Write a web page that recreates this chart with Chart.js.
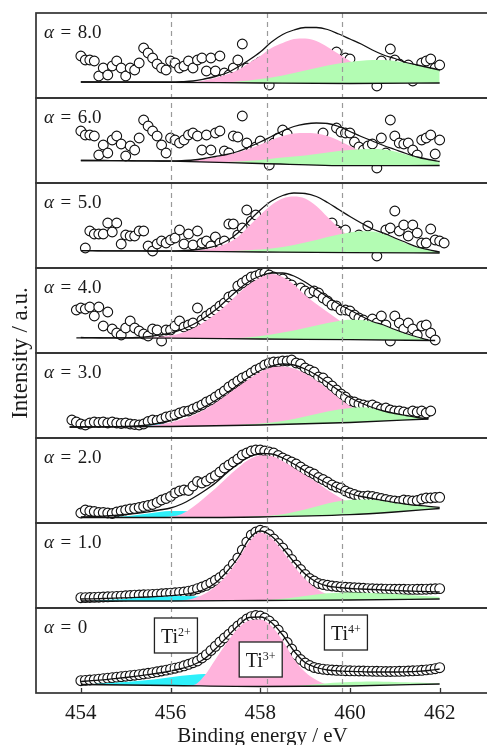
<!DOCTYPE html>
<html>
<head>
<meta charset="utf-8">
<script src="https://cdn.jsdelivr.net/npm/chart.js@4.4.1/dist/chart.umd.min.js"></script>
<style>
  html, body { margin: 0; padding: 0; background: #fff; overflow: hidden; }
  #wrap { width: 495px; height: 745px; }
</style>
</head>
<body>
<div id="wrap"><canvas id="chartXps" width="495" height="745"></canvas></div>
<script>
const N = null;

// binding energy of the measured points (eV)
const energy = [453.8, 453.9,
  454.0, 454.1, 454.2, 454.3, 454.4, 454.5, 454.6, 454.7, 454.8, 454.9,
  455.0, 455.1, 455.2, 455.3, 455.4, 455.5, 455.6, 455.7, 455.8, 455.9,
  456.0, 456.1, 456.2, 456.3, 456.4, 456.5, 456.6, 456.7, 456.8, 456.9,
  457.0, 457.1, 457.2, 457.3, 457.4, 457.5, 457.6, 457.7, 457.8, 457.9,
  458.0, 458.1, 458.2, 458.3, 458.4, 458.5, 458.6, 458.7, 458.8, 458.9,
  459.0, 459.1, 459.2, 459.3, 459.4, 459.5, 459.6, 459.7, 459.8, 459.9,
  460.0, 460.1, 460.2, 460.3, 460.4, 460.5, 460.6, 460.7, 460.8, 460.9,
  461.0, 461.1, 461.2, 461.3, 461.4, 461.5, 461.6, 461.7, 461.8, 461.9,
  462.0, 462.1];

// energy grid of the fitted curves (eV)
const eCurve = [453.75, 454, 454.25, 454.5, 454.75, 455, 455.25, 455.5, 455.75,
  456, 456.25, 456.5, 456.75, 457, 457.25, 457.5, 457.75, 458, 458.25, 458.5, 458.75,
  459, 459.25, 459.5, 459.75, 460, 460.25, 460.5, 460.75, 461, 461.25, 461.5, 461.75,
  462, 462.25];

const xTicks = [454, 456, 458, 460, 462];
const refLines = [456.0, 458.15, 459.82];
const alphaLabels = ["8.0", "6.0", "5.0", "4.0", "3.0", "2.0", "1.0", "0"];
const stateNames = ["2+", "3+", "4+"];
const stateE = [456.12, 458.01, 459.91];
const stateH = [57.5, 33.5, 60.5];

// ---- alpha = 8.0
const dataA8 = [N, N,
  42, 38, 38, 37, 22, 30, 23, 32, 37, 30,
  22, 30, 28, 35, 50, 45, 40, 34, 30, 28,
  37, 35, 30, 32, 37, 30, 38, 40, 27, 40,
  27, 42, 25, 23, 30, 38, 54, 30, 28, 33,
  36, 25, 13, 40, 35, 45, 38, 48, 42, 47,
  40, 48, 44, 42, 40, 38, 34, 46, 35, 40,
  39, 30, 25, 28, 30, 26, 12, 37, 30, 49,
  38, 34, 30, 33, 17, 28, 35, 37, 39, 30,
  33, N];
const fitA8 = [N, 16, 16, 16, 16, 16, 16, 16, 16, 16, 16.3, 17, 19, 21.5, 25, 31, 38, 46, 56, 63.5, 68,
  70.5, 70.5, 68.5, 64, 59, 54, 48, 43, 39.5, 35.5, 33, 30.5, 28, N];
const ti3A8 = [N, N, N, N, N, N, N, N, N, N, 15.6, 16, 17.5, 20, 23.5, 28, 35, 42, 50, 55, 59,
  59.5, 57, 51, 44, 37, 30, 24, 20, 17.5, 15.8, 15.2, N, N, N];
const ti4A8 = [N, N, N, N, N, N, N, N, N, N, N, N, N, 15.3, 15.8, 16.5, 17.5, 19, 20.5, 22.5, 25,
  27.5, 30, 32.5, 34.5, 36, 37.3, 38, 38, 37, 35, 32.5, 30, 28, N];
const bgXA8 = [454, 456, 458, 460, 462];
const bgYA8 = [16, 15.7, 15, 14.5, 15];

// ---- alpha = 6.0
const dataA6 = [N, N,
  52, 48, 48, 47, 28, 38, 30, 43, 47, 39,
  27, 37, 33, 45, 63, 57, 52, 47, 38, 30,
  45, 43, 40, 43, 48, 50, 47, 33, 48, 33,
  50, 52, 32, 30, 47, 46, 67, 40, 32, 36,
  42, 30, 18, 40, 45, 53, 49, 38, 43, 36,
  40, 38, 42, 40, 50, 40, 38, 55, 51, 50,
  50, 41, 36, 33, 37, 39, 15, 45, 30, 63,
  47, 40, 39, 40, 33, 28, 43, 45, 48, 29,
  43, N];
const fitA6 = [N, 22.5, 22.5, 22.5, 22.4, 22.3, 22.2, 22.1, 22, 22, 22.3, 23, 24.5, 26.5, 28.5, 31.5, 36,
  41, 46.5, 52, 56.5, 59, 60, 59.5, 56.5, 51.5, 46.5, 42, 37.5, 33.5, 29.5, 26, 23.5, 21.5, N];
const ti3A6 = [N, N, N, N, N, N, N, N, N, N, 21.8, 22.5, 24, 26, 28, 30.5, 34, 38.5, 43, 47, 49.5,
  50, 49.5, 47, 42.5, 37, 31.5, 26.5, 22.5, 19.5, 18, 17.4, N, N, N];
const ti4A6 = [N, N, N, N, N, N, N, N, N, N, N, N, N, 20.7, 21, 21.5, 22.3, 23, 24.3, 25.5, 26.5,
  27.5, 29, 30.5, 32, 33, 33.8, 34, 33.5, 31.5, 28.5, 25.5, 23.3, 21.5, N];
const bgXA6 = [454, 456, 458, 460, 462];
const bgYA6 = [22.5, 21.8, 19.5, 17.3, 17.5];

// ---- alpha = 5.0
const dataA5 = [N, N, N,
  20, 37, 34, 34, 34, 45, 36, 45, 24,
  33, 32, 32, 37, 37, 22, 17, 24, 27, 25,
  28, 30, 38, 24, 34, 23, 37, 25, 27, 22,
  31, 25, 27, 44, 44, 33, 40, 58, 47, 53,
  35, 48, 45, 50, 55, 58, 54, 60, 62, 58,
  55, 52, 50, 45, 42, 40, 45, 38, 36, 38,
  30, 28, 33, 30, 42, 30, 12, 28, 38, 40,
  57, 37, 43, 32, 43, 35, 25, 25, 39, 28,
  27, 25];
const fitA5 = [N, 17.3, 17.3, 17.2, 17.2, 17.1, 17.1, 17, 17, 17, 17.3, 18, 19.5, 22, 27, 35, 47,
  58, 67, 72.5, 75, 74.5, 71.5, 65.5, 58.5, 51.5, 45, 39, 35, 30, 25.5, 21, 18.3, 16, N];
const ti3A5 = [N, N, N, N, N, N, N, N, N, N, 16.8, 17.3, 18.5, 20.5, 24.5, 31, 42, 53, 63, 69.5, 71.5,
  69.5, 62, 51, 40, 31, 24, 19.5, 17, 16, 15.5, N, N, N, N];
const ti4A5 = [N, N, N, N, N, N, N, N, N, N, N, N, N, 16.5, 16.8, 17.2, 17.8, 18.5, 19.5, 21, 23,
  25.5, 28, 31, 33.5, 35.5, 36.7, 36.5, 34, 29.5, 24.5, 20.5, 18, 16, N];
const bgXA5 = [454, 456, 458, 460, 462];
const bgYA5 = [17.3, 16.8, 16, 15.3, 15];

// ---- alpha = 4.0
const dataA4 = [N, 43,
  45, 44, 46, 37, 46, 27, 41, 24, 20, 18,
  25, 32, 25, 22, 19, 17, 24, 23, 12, 23,
  23, 27, 32, 26, 28, 30, 45, 33, 37, 40,
  43, 47, 50, 56, 58, 67, 70, 73, 76, 77,
  79, 80, 78, 76, 72, 74, 70, 68, 64, 65,
  62, 60, 62, 60, 55, 52, 48, 47, 43, 43,
  42, 38, 35, 33, 30, 34, 30, 37, 28, 12,
  37, 30, 24, 30, 24, 18, 27, 28, 20, 13,
  N, N];
const fitA4 = [N, 15.5, 15.3, 15.2, 15.1, 15.2, 15.5, 16.3, 17.8, 20, 23.5, 28.5, 35, 43, 53, 63, 71.5,
  77, 80, 80, 77, 71, 63.5, 56, 49, 43, 37, 31.5, 28, 23.5, 19.5, 16, 13, N, N];
const ti3A4 = [N, N, N, N, N, N, N, 15.3, 16, 17.5, 20, 24.5, 31, 39, 48.5, 59, 68.5, 75.5, 79, 76, 68.5,
  58, 49, 41, 33, 26, 20.5, 17, 15, 14, N, N, N, N, N];
const ti4A4 = [N, N, N, N, N, N, N, N, N, N, N, N, N, N, 14.5, 15, 15.8, 17, 18.5, 20.5, 22.5,
  25, 27.5, 30, 32, 33.2, 33, 31, 27.5, 23, 19, 15.5, 13, N, N];
const bgXA4 = [453.9, 456, 458, 460, 461.9];
const bgYA4 = [15.2, 14.8, 14, 13.3, 12.5];

// ---- alpha = 3.0
const dataA3 = [18, 16,
  14, 13, 15, 16, 15.5, 16, 15, 16, 15, 14.5,
  15, 14, 13.5, 13, 14, 16.5, 18, 17.5, 19, 21,
  22, 23, 25, 26.5, 27, 29, 31, 33, 36, 38,
  41, 44, 47, 51, 54, 57, 60, 62, 65, 68,
  70, 73, 75, 76, 76, 77, 77, 78, 75, 74,
  70, 68, 66, 61, 60, 56, 52, 48, 44, 41,
  37, 36, 34, 33, 32, 33, 31, 29, 30, 28,
  27, 27, 26, 25, 27, 26, 27, 25, 27,
  N, N, N];
const fitA3 = [11, 11, 11.1, 11.2, 11.3, 11.5, 12, 13, 15, 17.5, 21, 25.5, 31, 37.5, 45, 53, 61,
  67.5, 72, 74, 73, 69, 63, 55.5, 47.5, 40.5, 35, 30.5, 27, 24.5, 22.5, 20.5, 19.3, N, N];
const ti2A3 = [N, N, N, N, N, 11.5, 12, 13, 14, 14.5, 14, 13.2, 12.6, 12.4, N, N, N, N, N, N, N,
  N, N, N, N, N, N, N, N, N, N, N, N, N, N];
const ti3A3 = [N, N, N, N, N, N, 11.7, 12.3, 13.5, 15.5, 18.5, 22.5, 28, 35, 43, 51, 59, 66, 70.5, 71.5, 69.5,
  64.5, 57.5, 49, 40, 32, 25.5, 21, 18.5, 17.5, N, N, N, N, N];
const ti4A3 = [N, N, N, N, N, N, N, N, N, N, N, N, N, N, 12.5, 13, 13.7, 14.5, 15.5, 17, 19,
  21.5, 24, 26.5, 28.5, 30, 30.7, 29.5, 27, 24.5, 22.5, 20.5, 19.3, N, N];
const bgXA3 = [453.75, 456, 458, 460, 461.75];
const bgYA3 = [11, 11.5, 13, 15.5, 19];

// ---- alpha = 2.0
const dataA2 = [N, N,
  10, 13, 12, 11.5, 10.5, 10.5, 10, 9.5, 11, 12,
  13, 14, 14.5, 15.5, 16.5, 17.5, 18.5, 20.5, 23, 24.5,
  26.5, 30, 32, 33, 32.5, 37, 41.5, 40, 42, 45,
  47.5, 51, 55, 58, 61, 64, 68, 70, 72, 73,
  73, 72, 71, 70, 67.5, 65, 63, 61, 59, 56,
  53, 51, 49, 45.5, 43.5, 41, 38, 36, 35, 32,
  30, 28.5, 27, 26.5, 27, 26.5, 25.5, 24.5, 23.5, 22.5,
  22, 21.5, 23, 22.5, 22, 22.5, 24, 25, 25, 25.5,
  25.7, N];
const fitA2 = [N, 6, 6.3, 6.8, 7.5, 8.5, 9.7, 11.2, 13, 15, 19, 25, 32, 40, 50, 59, 66,
  69.5, 69, 65, 59, 52, 45.5, 39.5, 34, 29.5, 26.5, 24.5, 22.3, 20.5, 18.8, 17.7, 16.7, 15.7, N];
const ti2A2 = [N, N, N, 5.6, 6, 6.8, 8, 9.5, 11, 12, 12, 11, 9, 7.5, 6.3, 5.9, N, N, N, N, N,
  N, N, N, N, N, N, N, N, N, N, N, N, N, N];
const ti3A2 = [N, N, N, N, N, N, N, N, 5.8, 6.5, 9, 16, 25, 34.5, 45, 55, 63.5, 67.5, 67, 62, 55,
  48, 41, 33, 26, 20, 15.5, 12, 11.5, 11.2, N, N, N, N, N];
const ti4A2 = [N, N, N, N, N, N, N, N, N, N, N, N, N, N, N, 5.9, 6.2, 6.7, 7.5, 8.8, 11,
  13.5, 16.5, 19.5, 21.8, 23, 23.5, 23.2, 22, 20, 18.5, 17.3, 16.3, 15.5, N];
const bgXA2 = [454, 456, 458, 460, 461, 462];
const bgYA2 = [5.5, 5.5, 6, 8.3, 11, 14.5];

// ---- alpha = 1.0
const dataA1 = [N, N,
  10.3, 10.4, 10.5, 10.6, 10.8, 11, 11.2, 11.4, 11.6, 11.9,
  12.2, 12.5, 12.8, 13, 13.2, 13.4, 13.6, 13.9, 14.2, 14.5,
  14.8, 15.2, 15.6, 16, 16.8, 17.8, 19.3, 21, 22.7, 25,
  27.7, 30.5, 34, 38.5, 44, 50, 58, 66, 73, 76,
  77.7, 76.5, 73.5, 69, 64.5, 60, 54.5, 48.5, 43, 38.5,
  33.5, 29.5, 27, 24.5, 23.5, 22.7, 22, 21.5, 21, 20.7,
  20.5, 20.2, 20, 19.7, 19.3, 19.2, 19, 19, 18.9, 18.8,
  18.7, 18.7, 18.7, 18.6, 18.6, 18.7, 18.7, 18.8, 19, 19.2,
  19.4, N];
const fitA1 = [N, 9, 9.2, 9.5, 9.8, 10.2, 10.6, 11, 11.6, 12.3, 13.3, 15, 18.5, 25, 36, 50, 69,
  77, 72, 60, 46, 34, 26, 22, 20.5, 19.5, 19, 18.5, 18, 17.5, 17, 16.7, 16.4, 16, N];
const ti2A1 = [N, N, 7.2, 7.8, 8.5, 9.3, 10, 10.7, 11.3, 11.8, 12, 11.8, 11, 9.5, 8.3, 7.6, N, N, N, N, N,
  N, N, N, N, N, N, N, N, N, N, N, N, N, N];
const ti3A1 = [N, N, N, N, N, N, N, N, N, N, 7.3, 9.5, 14, 21.5, 33, 48, 66, 75.5, 70, 57, 42,
  29, 19.5, 13.5, 10.5, 9, 8.2, N, N, N, N, N, N, N, N];
const ti4A1 = [N, N, N, N, N, N, N, N, N, N, N, N, N, N, N, N, N, 7.8, 8.3, 9.2, 10.5,
  12, 13.5, 14.7, 15.3, 15.5, 15.3, 15, 14.5, 14, 13.3, 12.5, 11.7, 11, N];
const bgXA1 = [454, 456, 458, 460, 462];
const bgYA1 = [7, 7, 7.5, 8, 9];

// ---- alpha = 0
const dataA0 = [N, N,
  12.3, 12.6, 13, 13.4, 13.8, 14.3, 14.8, 15.3, 15.8, 16.3,
  16.8, 17.3, 17.8, 18.4, 19, 19.7, 20.4, 21.2, 22, 22.9,
  23.8, 24.8, 25.9, 27.2, 28.7, 30.3, 32, 35, 38.3, 42.5,
  46.7, 51, 55, 58.7, 63, 67, 70.5, 74, 76.3, 77.5,
  77, 75, 72, 68, 63, 57, 50.5, 44, 38, 33.5,
  30, 27.5, 25.5, 24.5, 23.8, 23.3, 23, 22.7, 22.5, 22.3,
  22.2, 22.1, 22, 22, 21.9, 21.8, 21.7, 21.6, 21.5, 21.5,
  21.6, 21.7, 21.8, 22, 22.2, 22.4, 22.7, 23.1, 23.6, 24.3,
  25.3, N];
const fitA0 = [N, 11.5, 12.3, 13.2, 14.3, 15.5, 16.8, 18.3, 20, 22, 24.5, 28, 34, 44, 55.5, 67, 75.5,
  76, 70.5, 58, 42, 30.5, 25.5, 23, 22, 21.6, 21.3, 21, 21, 21, 21.2, 21.6, 22.5, 24, N];
const ti2A0 = [N, 8.5, 9, 9.6, 10.3, 11, 12, 13, 14.3, 15.8, 17.3, 18.3, 19, 17.5, 14.5, 11, 8.5, 7.3, 6.7, N, N,
  N, N, N, N, N, N, N, N, N, N, N, N, N, N];
const ti3A0 = [N, N, N, N, N, N, N, N, N, N, 7.3, 7.8, 17, 33.5, 50, 64.5, 72.5, 73.5, 67, 52.5, 34,
  21, 13, 8.5, 7, N, N, N, N, N, N, N, N, N, N];
const ti4A0 = [N, N, N, N, N, N, N, N, N, N, N, N, N, N, N, N, N, N, N, 6.6, 7,
  7.8, 8.8, 9.8, 10.5, 11, 11.3, 11.4, 11.3, 11.1, 10.8, 10.4, 9.9, 9.4, N];
const bgXA0 = [454, 456, 458, 460, 462];
const bgYA0 = [8.5, 7.5, 6.5, 7, 9];

// panel table, top to bottom
const panels = [
  { label: alphaLabels[0], pts: dataA8, fit: fitA8, bgX: bgXA8, bgY: bgYA8, ti2: null, ti3: ti3A8, ti4: ti4A8 },
  { label: alphaLabels[1], pts: dataA6, fit: fitA6, bgX: bgXA6, bgY: bgYA6, ti2: null, ti3: ti3A6, ti4: ti4A6 },
  { label: alphaLabels[2], pts: dataA5, fit: fitA5, bgX: bgXA5, bgY: bgYA5, ti2: null, ti3: ti3A5, ti4: ti4A5 },
  { label: alphaLabels[3], pts: dataA4, fit: fitA4, bgX: bgXA4, bgY: bgYA4, ti2: null, ti3: ti3A4, ti4: ti4A4 },
  { label: alphaLabels[4], pts: dataA3, fit: fitA3, bgX: bgXA3, bgY: bgYA3, ti2: ti2A3, ti3: ti3A3, ti4: ti4A3 },
  { label: alphaLabels[5], pts: dataA2, fit: fitA2, bgX: bgXA2, bgY: bgYA2, ti2: ti2A2, ti3: ti3A2, ti4: ti4A2 },
  { label: alphaLabels[6], pts: dataA1, fit: fitA1, bgX: bgXA1, bgY: bgYA1, ti2: ti2A1, ti3: ti3A1, ti4: ti4A1 },
  { label: alphaLabels[7], pts: dataA0, fit: fitA0, bgX: bgXA0, bgY: bgYA0, ti2: ti2A0, ti3: ti3A0, ti4: ti4A0 },
];

panels.forEach((pn, p) => {
  if (pn.pts.length !== energy.length) console.error("pts length", p, pn.pts.length);
  ["fit", "ti2", "ti3", "ti4"].forEach(k => {
    if (pn[k] && pn[k].length !== eCurve.length) console.error(k, "length", p, pn[k].length);
  });
});

const colors = { ti2: "#2ef0fa", ti3: "#ffb3dc", ti4: "#b3fcb3", line: "#111" };
const SERIF = '"Liberation Serif", "Times New Roman", serif';
Chart.defaults.font.family = SERIF;

function xy(xs, ys) {
  const out = [];
  ys.forEach((y, i) => { if (y !== null) out.push({ x: xs[i], y: y }); });
  return out;
}

const datasets = [];
panels.forEach((pn, p) => {
  const yAxisID = "y" + p;
  datasets.push({
    data: xy(energy, pn.pts), yAxisID, showLine: false,
    pointRadius: 4.9, pointBorderWidth: 1.1,
    pointBackgroundColor: "#fff", pointBorderColor: "#111", order: 6
  });
  const bgIndex = datasets.length;
  datasets.push({
    data: xy(pn.bgX, pn.bgY), yAxisID, borderColor: colors.line, borderWidth: 1.3,
    pointRadius: 0, cubicInterpolationMode: "monotone", fill: false, order: 1
  });
  [["ti2", 5], ["ti3", 4], ["ti4", 3]].forEach(([k, ord]) => {
    if (!pn[k]) return;
    datasets.push({
      data: xy(eCurve, pn[k]), yAxisID, borderWidth: 0, borderColor: colors[k],
      backgroundColor: colors[k], pointRadius: 0, fill: bgIndex,
      cubicInterpolationMode: "monotone", order: ord
    });
  });
  datasets.push({
    data: xy(eCurve, pn.fit), yAxisID, borderColor: colors.line, borderWidth: 1.3,
    pointRadius: 0, cubicInterpolationMode: "monotone", fill: false, order: 0
  });
});

const scales = {
  x: {
    type: "linear", position: "bottom", min: 453, max: 463.1,
    afterBuildTicks: s => { s.ticks = xTicks.map(v => ({ value: v })); },
    afterFit: s => { s.height = 52; },
    grid: { display: false }, border: { display: false },
    ticks: { font: { size: 21 }, color: "#1a1a1a", padding: 0, maxRotation: 0 }
  }
};
panels.forEach((pn, p) => {
  scales["y" + p] = {
    type: "linear", position: "left", stack: "panels", stackWeight: 1,
    weight: panels.length - p, min: 0, max: 85,
    grid: { display: false }, border: { display: false }, ticks: { display: false },
    afterFit: s => { s.width = 0; }
  };
});

const panelDecor = {
  id: "panelDecor",
  afterDatasetsDraw(chart) {
    const { ctx, chartArea: a, scales: sc } = chart;
    const xs = sc.x;
    ctx.save();

    // dashed reference lines
    ctx.strokeStyle = "#9a9a9a";
    ctx.lineWidth = 1.2;
    ctx.setLineDash([5, 4]);
    refLines.forEach(e => {
      const px = Math.round(xs.getPixelForValue(e)) + 0.5;
      ctx.beginPath(); ctx.moveTo(px, a.top); ctx.lineTo(px, a.bottom); ctx.stroke();
    });
    ctx.setLineDash([]);

    // panel frames
    ctx.strokeStyle = "#333";
    ctx.lineWidth = 1.7;
    panels.forEach((pn, p) => {
      const ys = sc["y" + p];
      ctx.strokeRect(a.left, ys.top, a.right - a.left, ys.bottom - ys.top);
    });

    // inward tick marks on the bottom axis
    ctx.lineWidth = 1.3;
    xs.ticks.forEach(t => {
      const px = Math.round(xs.getPixelForValue(t.value)) + 0.5;
      ctx.beginPath(); ctx.moveTo(px, a.bottom); ctx.lineTo(px, a.bottom - 5); ctx.stroke();
    });

    // alpha labels
    ctx.fillStyle = "#1a1a1a";
    ctx.textBaseline = "alphabetic";
    ctx.textAlign = "left";
    panels.forEach((pn, p) => {
      const ys = sc["y" + p];
      const base = ys.top + 24.5;
      let x = a.left + 8;
      ctx.font = "italic 19px " + SERIF;
      ctx.fillText("α", x, base);
      x += ctx.measureText("α").width + 6.5;
      ctx.font = "19px " + SERIF;
      ctx.fillText("=", x, base);
      x += ctx.measureText("=").width + 6.5;
      ctx.fillText(pn.label, x, base);
    });

    // oxidation state boxes in the bottom panel
    const yb = sc["y" + (panels.length - 1)];
    stateNames.forEach((s, i) => {
      const cx = xs.getPixelForValue(stateE[i]);
      const cy = yb.getPixelForValue(stateH[i]);
      ctx.fillStyle = "#fff";
      ctx.fillRect(cx - 21.5, cy - 17.5, 43, 35);
      ctx.strokeStyle = "#222";
      ctx.lineWidth = 1.3;
      ctx.strokeRect(cx - 21.5, cy - 17.5, 43, 35);
      ctx.fillStyle = "#1a1a1a";
      ctx.font = "20px " + SERIF;
      const w1 = ctx.measureText("Ti").width;
      ctx.font = "12px " + SERIF;
      const w2 = ctx.measureText(s).width;
      const start = cx - (w1 + w2) / 2;
      ctx.font = "20px " + SERIF;
      ctx.fillText("Ti", start, cy + 7.5);
      ctx.font = "12px " + SERIF;
      ctx.fillText(s, start + w1, cy + 0.5);
    });

    // axis titles
    ctx.font = "21px " + SERIF;
    ctx.textAlign = "center";
    ctx.fillText("Binding energy / eV", 262.5, 741.5);
    ctx.save();
    ctx.translate(26.5, (a.top + a.bottom) / 2);
    ctx.rotate(-Math.PI / 2);
    ctx.font = "23px " + SERIF;
    ctx.fillText("Intensity / a.u.", 0, 0);
    ctx.restore();

    ctx.restore();
  }
};

new Chart(document.getElementById("chartXps"), {
  type: "line",
  data: { datasets },
  options: {
    responsive: false,
    animation: false,
    events: [],
    spanGaps: true,
    layout: { padding: { left: 36, top: 13, right: 0, bottom: 0 } },
    plugins: { legend: { display: false }, tooltip: { enabled: false } },
    scales
  },
  plugins: [panelDecor]
});
</script>
</body>
</html>
